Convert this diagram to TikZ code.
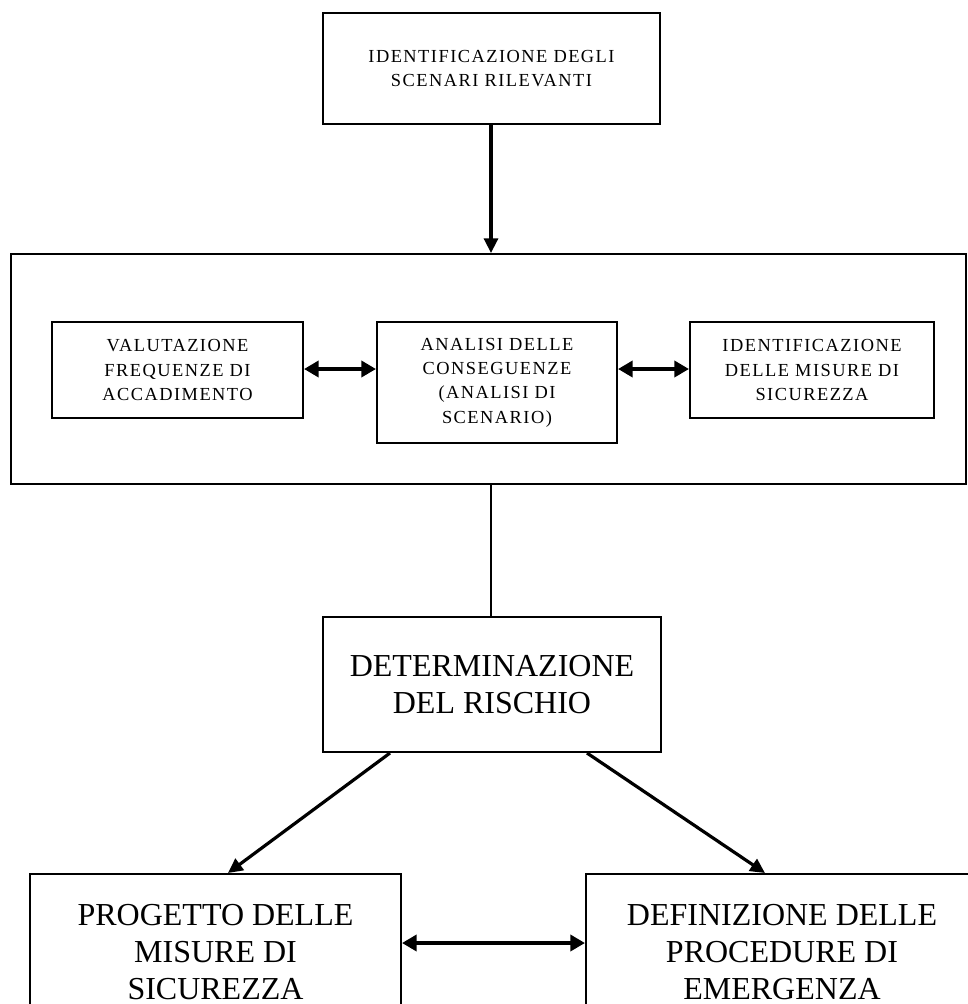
\documentclass[tikz,border=0pt]{standalone}
\usepackage{fontspec}
\setmainfont{Liberation Serif}
\newfontfamily\spacedserif[LetterSpace=8]{Liberation Serif}
\usetikzlibrary{arrows.meta,calc}
\newcommand\smallfnt{\spacedserif\fontsize{13.8}{18.2}\selectfont}
\newcommand\bigfnt{\fontsize{24}{27.8}\selectfont}
\begin{document}
\begin{tikzpicture}[x=0.75pt,y=-0.75pt,
  box/.style={draw=black, line width=1.5pt, align=center, inner sep=0pt},
  smalltxt/.style={font=\smallfnt},
  bigtxt/.style={font=\bigfnt},
  arr/.style={-{Triangle[length=11pt,width=10.5pt]}, line width=2.4pt},
  darr/.style={{Triangle[length=11pt,width=12pt]}-{Triangle[length=11pt,width=12pt]}, line width=3pt},
  plain/.style={line width=1.5pt}]
\clip (0,0) rectangle (968,1004);
\fill[white] (0,0) rectangle (968,1004);

\node[box,smalltxt,minimum width=337*0.75pt,minimum height=111*0.75pt] (top) at (491.5,68.5)
  {IDENTIFICAZIONE DEGLI\\SCENARI RILEVANTI};
\node[box,minimum width=955*0.75pt,minimum height=230*0.75pt] (big) at (488.5,369) {};
\node[box,smalltxt,minimum width=251*0.75pt,minimum height=96*0.75pt] (val) at (177.5,370)
  {VALUTAZIONE\\FREQUENZE DI\\ACCADIMENTO};
\node[box,smalltxt,minimum width=240*0.75pt,minimum height=121*0.75pt] (ana) at (497,382.5)
  {ANALISI DELLE\\CONSEGUENZE\\(ANALISI DI\\SCENARIO)};
\node[box,smalltxt,minimum width=244*0.75pt,minimum height=96*0.75pt] (ids) at (812,370)
  {IDENTIFICAZIONE\\DELLE MISURE DI\\SICUREZZA};
\node[box,bigtxt,minimum width=338*0.75pt,minimum height=135*0.75pt] (det) at (492,684.5)
  {DETERMINAZIONE\\DEL RISCHIO};
\node[box,bigtxt,minimum width=371*0.75pt,minimum height=156*0.75pt] (prog) at (215.5,952)
  {PROGETTO DELLE\\MISURE DI\\SICUREZZA};
\node[box,bigtxt,minimum width=392*0.75pt,minimum height=156*0.75pt] (defi) at (782,952)
  {DEFINIZIONE DELLE\\PROCEDURE DI\\EMERGENZA};

\coordinate (a1) at ($(val.east)+(0,-1)$);
\coordinate (a2) at ($(ids.west)+(0,-1)$);
\coordinate (a3) at ($(prog.east)+(0,-9)$);

\draw[arr] (top.south -| 491,0) -- (big.north -| 491,0);
\draw[darr] (a1) -- (a1 -| ana.west);
\draw[darr] (a2 -| ana.east) -- (a2);
\draw[plain] (big.south -| 491,0) -- (det.north -| 491,0);
\draw[arr] ($(det.south)+(-102,0)$) -- ($(prog.north)+(12.5,0)$);
\draw[arr] ($(det.south)+(95,0)$) -- ($(defi.north)+(-17,0)$);
\draw[darr] (a3) -- (a3 -| defi.west);
\end{tikzpicture}
\end{document}
